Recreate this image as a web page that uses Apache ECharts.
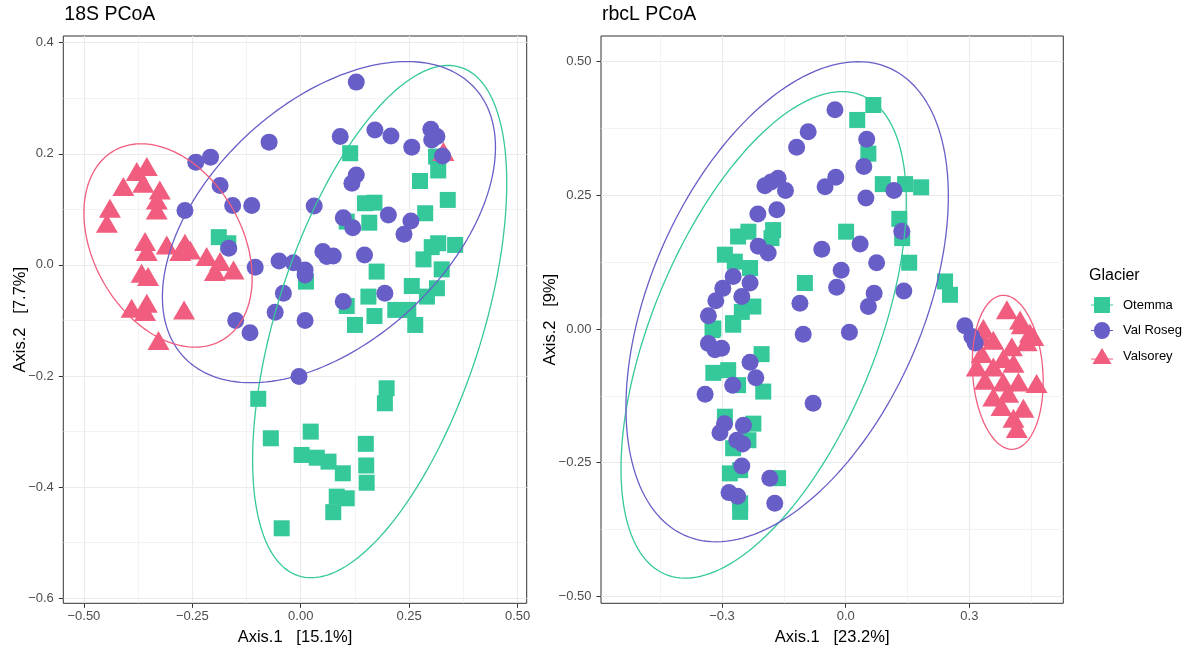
<!DOCTYPE html>
<html>
<head>
<meta charset="utf-8">
<script src="https://cdn.jsdelivr.net/npm/echarts@6/dist/echarts.min.js"></script>
<style>html,body{margin:0;padding:0;background:#fff}#chart{width:1190px;height:646px}</style>
</head>
<body>
<div id="chart"></div>
<script>
// ---------------- DATA ----------------
const groups = ['Otemma', 'Val Roseg', 'Valsorey'];

// 18S PCoA points [Axis.1, Axis.2]
const s18Otemma = [[0.114,0.201],[0.312,0.195],[0.317,0.170],[0.275,0.151],[0.339,0.117],[0.148,0.111],[0.170,0.112],[0.158,0.076],[0.106,0.078],[0.287,0.093],[0.317,0.039],[0.356,0.036],[0.302,0.032],[0.283,0.010],[0.325,-0.008],[0.175,-0.012],[0.012,-0.030],[0.256,-0.038],[0.314,-0.042],[0.291,-0.057],[0.156,-0.057],[0.106,-0.074],[0.218,-0.081],[0.248,-0.081],[0.170,-0.092],[0.125,-0.108],[0.264,-0.108],[-0.189,0.050],[-0.167,0.039],[-0.098,-0.241],[0.198,-0.222],[0.194,-0.249],[-0.069,-0.312],[0.023,-0.300],[0.002,-0.342],[0.037,-0.347],[0.064,-0.354],[0.097,-0.375],[0.150,-0.322],[0.151,-0.361],[0.152,-0.392],[0.083,-0.417],[0.106,-0.420],[0.075,-0.445],[-0.044,-0.474]];
const s18ValRoseg = [[0.128,0.329],[0.091,0.231],[0.171,0.243],[0.208,0.232],[0.256,0.212],[0.300,0.244],[0.314,0.231],[0.302,0.225],[0.327,0.196],[0.128,0.162],[0.118,0.147],[0.031,0.106],[0.098,0.085],[0.120,0.067],[0.202,0.090],[0.254,0.079],[0.238,0.055],[0.051,0.024],[0.075,0.016],[0.060,0.015],[0.147,0.018],[-0.050,0.007],[-0.017,0.004],[0.010,-0.009],[0.010,-0.018],[-0.040,-0.051],[-0.059,-0.085],[0.194,-0.051],[0.098,-0.066],[0.010,-0.100],[-0.150,-0.100],[-0.117,-0.122],[-0.004,-0.201],[-0.073,0.221],[-0.242,0.185],[-0.208,0.194],[-0.186,0.143],[-0.157,0.107],[-0.113,0.107],[-0.267,0.098],[-0.166,0.030],[-0.105,-0.004]];
const s18Valsorey = [[-0.355,0.177],[-0.378,0.168],[-0.409,0.141],[-0.363,0.147],[-0.325,0.135],[-0.332,0.117],[-0.332,0.099],[-0.440,0.102],[-0.447,0.075],[-0.359,0.042],[-0.309,0.036],[-0.267,0.039],[-0.278,0.024],[-0.255,0.027],[-0.355,0.024],[-0.217,0.015],[-0.186,0.006],[-0.198,-0.012],[-0.155,-0.009],[-0.367,-0.015],[-0.352,-0.021],[-0.390,-0.078],[-0.355,-0.069],[-0.359,-0.084],[-0.269,-0.081],[-0.328,-0.136],[0.329,0.204]];

// rbcL PCoA points [Axis.1, Axis.2]
const rbcLOtemma = [[-0.261,0.173],[-0.236,0.182],[-0.176,0.185],[-0.180,0.170],[-0.293,0.139],[-0.269,0.126],[-0.232,0.114],[-0.099,0.086],[-0.224,0.042],[-0.252,0.032],[-0.321,0.001],[-0.273,0.011],[0.067,0.419],[0.028,0.391],[0.055,0.328],[0.090,0.271],[0.144,0.271],[0.183,0.265],[0.130,0.206],[0.137,0.170],[0.001,0.182],[0.154,0.124],[0.241,0.089],[0.253,0.064],[-0.273,0.008],[-0.323,-0.002],[-0.204,-0.047],[-0.321,-0.082],[-0.285,-0.077],[-0.261,-0.105],[-0.200,-0.117],[-0.293,-0.164],[-0.224,-0.177],[-0.236,-0.208],[-0.273,-0.223],[-0.281,-0.270],[-0.256,-0.264],[-0.164,-0.279],[-0.256,-0.326],[-0.256,-0.342]];
const rbcLValRoseg = [[-0.091,0.369],[-0.119,0.340],[-0.196,0.268],[-0.164,0.282],[-0.146,0.259],[-0.181,0.275],[-0.213,0.215],[-0.167,0.223],[-0.212,0.155],[-0.188,0.142],[-0.273,0.098],[-0.298,0.076],[-0.232,0.086],[-0.252,0.061],[-0.315,0.053],[-0.333,0.025],[-0.111,0.048],[-0.026,0.410],[0.051,0.355],[0.044,0.304],[-0.024,0.284],[-0.050,0.266],[0.049,0.245],[0.117,0.259],[0.136,0.183],[-0.058,0.149],[0.035,0.159],[0.075,0.124],[-0.011,0.110],[-0.022,0.078],[0.069,0.067],[0.055,0.042],[0.141,0.071],[-0.103,-0.010],[0.009,-0.006],[0.289,0.006],[0.306,-0.014],[0.314,-0.026],[-0.333,-0.027],[-0.317,-0.039],[-0.301,-0.036],[-0.232,-0.062],[-0.218,-0.091],[-0.274,-0.105],[-0.341,-0.122],[-0.079,-0.139],[-0.294,-0.177],[-0.248,-0.180],[-0.305,-0.194],[-0.264,-0.208],[-0.250,-0.215],[-0.252,-0.256],[-0.184,-0.279],[-0.283,-0.306],[-0.262,-0.313],[-0.172,-0.326]];
const rbcLValsorey = [[0.391,0.036],[0.427,0.008],[0.334,0.001],[0.447,-0.008],[0.358,-0.021],[0.403,-0.033],[0.330,-0.046],[0.382,-0.055],[0.439,-0.024],[0.318,-0.071],[0.358,-0.071],[0.407,-0.064],[0.463,-0.102],[0.338,-0.096],[0.382,-0.099],[0.419,-0.099],[0.358,-0.127],[0.394,-0.120],[0.378,-0.145],[0.431,-0.148],[0.407,-0.167],[0.415,-0.186],[0.330,-0.014],[0.455,-0.014],[0.423,0.017]];

// 95% ellipses: [centerX, centerY, halfWidthX, halfHeightY, correlation]
const ell18SOtemma   = [0.182, -0.102, 0.293, 0.461, 0.54];
const ell18SValRoseg = [0.065, 0.077, 0.384, 0.289, 0.466];
const ell18SValsorey = [-0.306, 0.035, 0.194, 0.183, -0.32];
const ellRbcLOtemma   = [-0.199, -0.011, 0.346, 0.455, 0.55];
const ellRbcLValRoseg = [-0.142, 0.051, 0.391, 0.449, 0.44];
const ellRbcLValsorey = [0.393, -0.081, 0.086, 0.144, -0.12];

// tick values
const s18XMajor = [-0.5, -0.25, 0, 0.25, 0.5];
const s18XMinor = [-0.375, -0.125, 0.125, 0.375];
const s18YMajor = [-0.6, -0.4, -0.2, 0, 0.2, 0.4];
const s18YMinor = [-0.5, -0.3, -0.1, 0.1, 0.3];
const rbcLXMajor = [-0.3, 0, 0.3];
const rbcLXMinor = [-0.45, -0.15, 0.15, 0.45];
const rbcLYMajor = [-0.5, -0.25, 0, 0.25, 0.5];
const rbcLYMinor = [-0.375, -0.125, 0.125, 0.375];

// ---------------- STYLE ----------------
const FONT = '"Liberation Sans", Arial, Helvetica, sans-serif';
const colors = {'Otemma': '#34C89A', 'Val Roseg': '#675FC7', 'Valsorey': '#F15D7E'};
const symbols = {'Otemma': 'rect', 'Val Roseg': 'circle', 'Valsorey': 'triangle'};
const sizes = {'Otemma': 16, 'Val Roseg': 17, 'Valsorey': [22, 19]};

const panels = [
  {title: '18S PCoA', box: {l: 63.3, t: 36, r: 526.7, b: 603.3}, xRange: [-0.5475, 0.521], yRange: [-0.609, 0.412],
   xMajor: s18XMajor, xMinor: s18XMinor, yMajor: s18YMajor, yMinor: s18YMinor, xDec: 2, yDec: 1,
   xName: 'Axis.1   [15.1%]', yName: 'Axis.2   [7.7%]', yNameGap: 34,
   pts: {'Otemma': s18Otemma, 'Val Roseg': s18ValRoseg, 'Valsorey': s18Valsorey},
   ell: {'Otemma': ell18SOtemma, 'Val Roseg': ell18SValRoseg, 'Valsorey': ell18SValsorey}},
  {title: 'rbcL PCoA', box: {l: 601, t: 36, r: 1063.3, b: 603.3}, xRange: [-0.5935, 0.5278], yRange: [-0.513, 0.548],
   xMajor: rbcLXMajor, xMinor: rbcLXMinor, yMajor: rbcLYMajor, yMinor: rbcLYMinor, xDec: 1, yDec: 2,
   xName: 'Axis.1   [23.2%]', yName: 'Axis.2   [9%]', yNameGap: 42,
   pts: {'Otemma': rbcLOtemma, 'Val Roseg': rbcLValRoseg, 'Valsorey': rbcLValsorey},
   ell: {'Otemma': ellRbcLOtemma, 'Val Roseg': ellRbcLValRoseg, 'Valsorey': ellRbcLValsorey}}
];

function fmt(v, d) {
  let s = Math.abs(v) < 1e-9 ? (0).toFixed(d) : v.toFixed(d);
  return s.replace('-', '\u2212');
}
function ellipsePath(e) {
  const [cx, cy, hx, hy, r] = e;
  const q = Math.sqrt(1 - r * r);
  const out = [];
  for (let i = 0; i <= 180; i++) {
    const t = i / 180 * 2 * Math.PI;
    out.push([cx + hx * Math.cos(t), cy + hy * (r * Math.cos(t) + q * Math.sin(t))]);
  }
  return out;
}

const grids = [], xAxes = [], yAxes = [], series = [], titles = [];
const hidden = (gi, min, max) => ({gridIndex: gi, type: 'value', show: false, min: min, max: max});
const tickColor = '#333333', gridColor = '#EBEBEB';
const mkGrid = o => Object.assign({outerBoundsMode: 'none', containLabel: false}, o);

panels.forEach(p => {
  const B = p.box;
  const W = B.r - B.l, H = B.b - B.t;
  const px = v => B.l + (v - p.xRange[0]) / (p.xRange[1] - p.xRange[0]) * W;
  const py = v => B.t + (p.yRange[1] - v) / (p.yRange[1] - p.yRange[0]) * H;

  titles.push({text: p.title, left: B.l + 1, top: 5, padding: 0,
    textStyle: {fontSize: 19.5, fontWeight: 'normal', color: '#000', fontFamily: FONT}});

  // minor x gridlines
  let gi = grids.length;
  const xm = p.xMinor;
  grids.push(mkGrid({left: px(xm[0]), top: B.t, width: px(xm[xm.length-1]) - px(xm[0]), height: H}));
  xAxes.push({gridIndex: gi, type: 'value', min: xm[0], max: xm[xm.length-1], interval: xm[1] - xm[0],
    axisLine: {show: false}, axisTick: {show: false}, axisLabel: {show: false},
    splitLine: {show: true, lineStyle: {color: gridColor, width: 0.6}}});
  yAxes.push(hidden(gi, 0, 1));
  // minor y gridlines
  gi = grids.length;
  const ym = p.yMinor;
  grids.push(mkGrid({left: B.l, top: py(ym[ym.length-1]), width: W, height: py(ym[0]) - py(ym[ym.length-1])}));
  xAxes.push(hidden(gi, 0, 1));
  yAxes.push({gridIndex: gi, type: 'value', min: ym[0], max: ym[ym.length-1], interval: ym[1] - ym[0],
    axisLine: {show: false}, axisTick: {show: false}, axisLabel: {show: false},
    splitLine: {show: true, lineStyle: {color: gridColor, width: 0.6}}});
  // major x gridlines + ticks + labels
  gi = grids.length;
  const xM = p.xMajor;
  grids.push(mkGrid({left: px(xM[0]), top: B.t, width: px(xM[xM.length-1]) - px(xM[0]), height: H}));
  xAxes.push({gridIndex: gi, type: 'value', position: 'bottom', min: xM[0], max: xM[xM.length-1], interval: xM[1] - xM[0],
    axisLine: {show: false},
    axisTick: {show: true, length: 4.5, lineStyle: {color: tickColor, width: 1}},
    axisLabel: {show: true, margin: 6.5, color: '#4D4D4D', fontSize: 13, fontFamily: FONT,
      formatter: v => fmt(v, p.xDec)},
    splitLine: {show: true, lineStyle: {color: gridColor, width: 1.1}}});
  yAxes.push(hidden(gi, 0, 1));
  // major y gridlines + ticks + labels
  gi = grids.length;
  const yM = p.yMajor;
  grids.push(mkGrid({left: B.l, top: py(yM[yM.length-1]), width: W, height: py(yM[0]) - py(yM[yM.length-1])}));
  xAxes.push(hidden(gi, 0, 1));
  yAxes.push({gridIndex: gi, type: 'value', position: 'left', min: yM[0], max: yM[yM.length-1], interval: yM[1] - yM[0],
    axisLine: {show: false},
    axisTick: {show: true, length: 4.5, lineStyle: {color: tickColor, width: 1}},
    axisLabel: {show: true, margin: 9.5, color: '#4D4D4D', fontSize: 13, fontFamily: FONT,
      formatter: v => fmt(v, p.yDec)},
    splitLine: {show: true, lineStyle: {color: gridColor, width: 1.1}}});

  // data grid
  gi = grids.length;
  grids.push(mkGrid({left: B.l, top: B.t, width: W, height: H, show: true, borderColor: '#333333', borderWidth: 1,
    backgroundColor: 'transparent'}));
  const xi = xAxes.length, yi = yAxes.length;
  xAxes.push({gridIndex: gi, type: 'value', min: p.xRange[0], max: p.xRange[1],
    axisLine: {show: false}, axisTick: {show: false}, axisLabel: {show: false}, splitLine: {show: false},
    name: p.xName, nameLocation: 'middle', nameGap: 25.5,
    nameTextStyle: {fontSize: 16.5, color: '#000', fontFamily: FONT}});
  yAxes.push({gridIndex: gi, type: 'value', min: p.yRange[0], max: p.yRange[1],
    axisLine: {show: false}, axisTick: {show: false}, axisLabel: {show: false}, splitLine: {show: false},
    name: p.yName, nameLocation: 'middle', nameGap: p.yNameGap,
    nameTextStyle: {fontSize: 16.5, color: '#000', fontFamily: FONT}});

  ['Otemma', 'Valsorey', 'Val Roseg'].forEach(g => {
    series.push({type: 'scatter', name: g, xAxisIndex: xi, yAxisIndex: yi, data: p.pts[g],
      symbol: symbols[g], symbolSize: sizes[g], itemStyle: {color: colors[g], opacity: 1}, z: 3, silent: true});
  });
  ['Otemma', 'Val Roseg', 'Valsorey'].forEach(g => {
    series.push({type: 'line', name: g + ' ellipse', xAxisIndex: xi, yAxisIndex: yi, data: ellipsePath(p.ell[g]),
      showSymbol: false, symbol: 'none', smooth: false, lineStyle: {color: colors[g], width: 1.3},
      itemStyle: {color: colors[g]}, z: 4, silent: true});
  });
});

titles.push({text: 'Glacier', left: 1089, top: 268, padding: 0,
  textStyle: {fontSize: 16, fontWeight: 'normal', color: '#000', fontFamily: FONT}});

const iconSq = 'path://M0,7.5 H3 V0 H19 V7.5 H22 V8.5 H19 V16 H3 V8.5 H0 Z';
const iconCi = 'path://M0,7.5 H3 A8,8 0 0 1 19,7.5 H22 V8.5 H19 A8,8 0 0 1 3,8.5 H0 Z';
const iconTr = 'path://M11,0 L17.3,10.5 H22 V11.5 H17.9 L20.5,16 H1.5 L4.1,11.5 H0 V10.5 H4.7 Z';

const option = {
  animation: false,
  backgroundColor: '#ffffff',
  title: titles,
  legend: {orient: 'vertical', left: 1091, top: 297, padding: 0, itemWidth: 22, itemHeight: 17, itemGap: 9,
    selectedMode: false,
    data: [{name: 'Otemma', icon: iconSq}, {name: 'Val Roseg', icon: iconCi}, {name: 'Valsorey', icon: iconTr}],
    textStyle: {fontSize: 13, color: '#000', fontFamily: FONT, padding: [0, 0, 0, 5]}},
  grid: grids,
  xAxis: xAxes,
  yAxis: yAxes,
  series: series
};

const chart = echarts.init(document.getElementById('chart'), null, {renderer: 'canvas'});
chart.setOption(option);
</script>
</body>
</html>
